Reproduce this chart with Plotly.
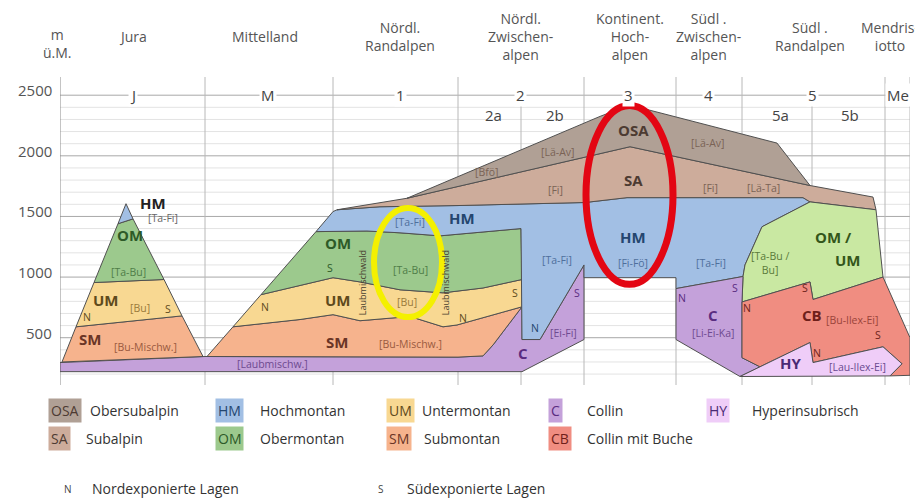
import plotly.graph_objects as go

FONT = "Open Sans, Noto Sans, DejaVu Sans, sans-serif"

# ---------------- data ----------------
# axis / grid (elevation, m ü.M.)
y_tick_vals = [500, 1000, 1500, 2000, 2500]
grid_levels = list(range(200, 2501, 100))

# profile regions (x = distance along profile, arbitrary units)
main_bounds = [0, 145, 273, 398, 524, 616, 682, 825, 850]
sub_bounds = [461, 752]
region_codes = ["J", "M", "1", "2", "3", "4", "5", "Me"]
region_code_x = [73, 208, 340, 460, 568, 648, 752, 838]
sub_codes = ["2a", "2b", "5a", "5b"]
sub_code_x = [433, 495, 720, 790]
region_names = ["Jura", "Mittelland", "Nördl.<br>Randalpen", "Nördl.<br>Zwischen-<br>alpen",
                "Kontinent.<br>Hoch-<br>alpen", "Südl .<br>Zwischen-<br>alpen", "Südl .<br>Randalpen",
                "Mendris-<br>iotto"]
region_name_x = [73, 205, 340, 460, 570, 648, 750, 830]

# vegetation belt polygons (x profile units, y elevation m)
jura_hm_x = [58, 66, 73];            jura_hm_y = [1440, 1605, 1480]
jura_om_x = [34, 58, 73, 104];       jura_om_y = [955, 1440, 1480, 980]
jura_um_x = [16, 34, 104, 122];      jura_um_y = [590, 955, 980, 680]
jura_sm_x = [2, 16, 122, 143];       jura_sm_y = [300, 590, 680, 345]

collin_x = [0, 145, 398, 423, 433, 462, 462, 480, 524, 524, 462, 0]
collin_y = [295, 345, 340, 350, 440, 755, 485, 485, 1100, 485, 220, 220]

sm_x = [147, 173, 240, 273, 300, 350, 383, 397, 462, 433, 423, 398]
sm_y = [345, 590, 650, 690, 640, 675, 590, 605, 755, 440, 350, 340]

um_x = [173, 201, 273, 300, 340, 383, 423, 462, 462, 397, 383, 350, 300, 273, 240]
um_y = [590, 855, 995, 960, 895, 870, 910, 980, 755, 605, 590, 675, 640, 690, 650]

om_x = [201, 256, 307, 340, 380, 417, 461, 462, 423, 383, 340, 300, 273]
om_y = [855, 1375, 1380, 1365, 1340, 1365, 1400, 980, 910, 870, 895, 960, 995]

hm_x = [256, 273, 277, 320, 398, 525, 567, 743, 750, 702, 685, 683, 616, 616, 524, 524,
        480, 462, 461, 417, 380, 340, 307]
hm_y = [1375, 1540, 1555, 1580, 1590, 1615, 1655, 1655, 1620, 1415, 1100, 1005, 905, 995,
        995, 1100, 485, 485, 1400, 1365, 1340, 1365, 1380]

sa_x = [277, 347, 570, 750, 813, 816, 750, 743, 567, 525, 398, 320]
sa_y = [1555, 1650, 2075, 1755, 1660, 1555, 1620, 1655, 1655, 1615, 1590, 1580]

osa_x = [347, 540, 562, 588, 717, 750, 570]
osa_y = [1650, 2325, 2395, 2380, 2105, 1755, 2075]

omum_x = [750, 816, 823, 753, 750, 682, 683, 685, 702]
omum_y = [1620, 1555, 1000, 815, 960, 795, 1005, 1100, 1415]

c4_x = [616, 683, 682, 682, 700, 680, 616]
c4_y = [905, 1005, 795, 335, 260, 180, 485]

cb_x = [682, 750, 753, 823, 850, 850, 830, 842, 823, 753, 750, 700, 682]
cb_y = [795, 960, 815, 1000, 500, 190, 185, 285, 425, 295, 460, 260, 335]

hy_x = [680, 750, 753, 823, 842, 830]
hy_y = [180, 460, 295, 425, 285, 185]

# belt colours
COL = {
    "OSA": "#b0a095", "SA": "#cdac9b", "HM": "#a2bfe4", "OM": "#9cc98d",
    "UM": "#f8d892", "SM": "#f6b38d", "C": "#c4a1da", "CB": "#f08d81",
    "HY": "#efcdf8", "OMUM": "#c9e8a2",
}
TXT = {
    "OSA": "#4d3b32", "SA": "#4d3b32", "HM": "#24466f", "OM": "#2d5a28",
    "UM": "#5e4a1c", "SM": "#6a3526", "C": "#5a2c80", "CB": "#6e1f1a",
    "HY": "#4a2a74", "OMUM": "#33561a", "K": "#222222",
}
SUB = {
    "OSA": "#7a6355", "SA": "#7a6355", "HM": "#4f6f9c", "OM": "#4f7d48",
    "UM": "#9a7a3a", "SM": "#9a5a40", "C": "#6e4a90", "CB": "#9a443a",
    "HY": "#6a4a90", "OMUM": "#5a7a3a", "K": "#666666",
}

polygons = [
    ("C", collin_x, collin_y), ("SM", sm_x, sm_y), ("UM", um_x, um_y), ("OM", om_x, om_y),
    ("HM", hm_x, hm_y), ("SA", sa_x, sa_y), ("OSA", osa_x, osa_y), ("OMUM", omum_x, omum_y),
    ("C", c4_x, c4_y), ("CB", cb_x, cb_y), ("HY", hy_x, hy_y),
    ("SM", jura_sm_x, jura_sm_y), ("UM", jura_um_x, jura_um_y), ("OM", jura_om_x, jura_om_y),
    ("HM", jura_hm_x, jura_hm_y),
]

# in-chart labels: (text, x, y, kind, colour key)
labels = [
    ("HM", 93, 1613, "abbr", "K"), ("[Ta-Fi]", 103, 1489, "sub", "K"),
    ("OM", 70, 1349, "abbr", "OM"), ("[Ta-Bu]", 68, 1044, "sub", "OM"),
    ("UM", 45, 813, "abbr", "UM"), ("[Bu]", 80, 747, "sub", "UM"), ("S", 108, 739, "ns", "UM"),
    ("N", 27, 673, "ns", "UM"), ("SM", 30, 492, "abbr", "SM"), ("[Bu-Mischw.]", 85, 426, "sub", "SM"),
    ("N", 205, 755, "ns", "UM"), ("[Laubmischw.]", 212, 285, "sub", "C"),
    ("OM", 278, 1283, "abbr", "OM"), ("S", 270, 1077, "ns", "OM"), ("UM", 277, 813, "abbr", "UM"),
    ("SM", 277, 467, "abbr", "SM"), ("[Ta-Fi]", 350, 1456, "sub", "HM"), ("HM", 402, 1489, "abbr", "HM"),
    ("[Ta-Bu]", 350, 1060, "sub", "OM"), ("[Bu]", 347, 797, "sub", "UM"),
    ("[Bu-Mischw.]", 350, 450, "sub", "SM"), ("N", 403, 665, "ns", "UM"), ("S", 455, 871, "ns", "UM"),
    ("[Bfö]", 427, 1868, "sub", "OSA"), ("[Lä-Av]", 497, 2033, "sub", "OSA"), ("[Fi]", 495, 1720, "sub", "SA"),
    ("[Ta-Fi]", 497, 1143, "sub", "HM"), ("N", 475, 582, "ns", "HM"), ("[Ei-Fi]", 503, 541, "sub", "C"),
    ("S", 517, 871, "ns", "C"), ("C", 463, 376, "abbr", "C"),
    ("OSA", 573, 2215, "abbr", "OSA"), ("SA", 573, 1803, "abbr", "SA"), ("HM", 573, 1333, "abbr", "HM"),
    ("[Fi-Fö]", 573, 1118, "sub", "HM"),
    ("[Lä-Av]", 647, 2107, "sub", "OSA"), ("[Fi]", 650, 1736, "sub", "SA"), ("[Lä-Ta]", 703, 1736, "sub", "SA"),
    ("[Ta-Fi]", 651, 1118, "sub", "HM"), ("N", 622, 829, "ns", "C"), ("S", 675, 912, "ns", "C"),
    ("C", 653, 689, "abbr", "C"), ("[Li-Ei-Ka]", 653, 541, "sub", "C"),
    ("[Ta-Bu /<br>Bu]", 710, 1115, "sub", "OMUM"), ("OM /", 773, 1333, "abbr", "OMUM"),
    ("UM", 787, 1143, "abbr", "OMUM"), ("S", 745, 912, "ns", "CB"), ("N", 687, 747, "ns", "CB"),
    ("CB", 752, 689, "abbr", "CB"), ("[Bu-Ilex-Ei]", 792, 648, "sub", "CB"), ("S", 818, 524, "ns", "CB"),
    ("N", 757, 376, "ns", "CB"), ("HY", 730, 294, "abbr", "HY"), ("[Lau-Ilex-Ei]", 797, 261, "sub", "HY"),
]

# legend entries: (code, name) rows
legend_row1 = [("OSA", "Obersubalpin"), ("HM", "Hochmontan"), ("UM", "Untermontan"),
               ("C", "Collin"), ("HY", "Hyperinsubrisch")]
legend_row2 = [("SA", "Subalpin"), ("OM", "Obermontan"), ("SM", "Submontan"), ("CB", "Collin mit Buche")]
legend_notes = [("N", "Nordexponierte Lagen"), ("S", "Südexponierte Lagen")]

# ---------------- figure ----------------
# the page body adds an 8 px offset, so the figure is 8 px smaller than the window
W, H = 915, 490
ML, MR, MT, MB = 52, 13, 69, 113
PW, PH = W - ML - MR, H - MT - MB
Y0, Y1 = 110, 2650


def px2paper(px):
    return (px - 8 - ML) / PW


def py2paper(py):
    return (H - MB - (py - 8)) / PH


fig = go.Figure()
for key, xs, ys in polygons:
    fig.add_trace(go.Scatter(x=xs + xs[:1], y=ys + ys[:1], mode="lines", fill="toself",
                             fillcolor=COL[key], line=dict(color="#505050", width=1),
                             hoverinfo="skip", showlegend=False))

shapes = []
for lv in grid_levels:
    major = lv % 500 == 0
    shapes.append(dict(type="line", xref="x", yref="y", x0=0, x1=850, y0=lv, y1=lv, layer="below",
                       line=dict(color="#a8a8a8" if major else "#e3e3e3", width=1)))
for b in main_bounds:
    shapes.append(dict(type="line", xref="x", yref="y", x0=b, x1=b, y0=Y0, y1=Y1, layer="below",
                       line=dict(color="#8a8a8a" if b == 0 else "#b8b8b8", width=1)))
for b in sub_bounds:
    shapes.append(dict(type="line", xref="x", yref="y", x0=b, x1=b, y0=Y0, y1=2460, layer="below",
                       line=dict(color="#b8b8b8", width=1)))
# highlight ellipses
shapes.append(dict(type="circle", xref="x", yref="y", x0=314, x1=382, y0=670, y1=1570,
                   line=dict(color="#f4f000", width=6)))
shapes.append(dict(type="circle", xref="x", yref="y", x0=526, x1=613, y0=940, y1=2415,
                   line=dict(color="#e30613", width=7)))

ann = []
for v in y_tick_vals:
    ann.append(dict(x=px2paper(54), xref="paper", y=v, yref="y", yshift=5, text=str(v), showarrow=False,
                    xanchor="right", yanchor="middle", font=dict(size=15, color="#555555", family=FONT)))
ann.append(dict(x=px2paper(41), xref="paper", y=py2paper(44), yref="paper", yanchor="middle",
                text="m<br>ü.M.", showarrow=False, font=dict(size=14, color="#555555", family=FONT)))
for t, x in zip(region_codes, region_code_x):
    ann.append(dict(x=x, y=2500, xref="x", yref="y", text=t, showarrow=False, bgcolor="white",
                    borderpad=1, font=dict(size=15, color="#444444", family=FONT)))
for t, x in zip(sub_codes, sub_code_x):
    ann.append(dict(x=x, y=2335, xref="x", yref="y", text=t, showarrow=False,
                    font=dict(size=15, color="#444444", family=FONT)))
for t, x in zip(region_names, region_name_x):
    ann.append(dict(x=x, xref="x", y=py2paper(37), yref="paper", yanchor="middle", text=t, showarrow=False,
                    font=dict(size=14, color="#555555", family=FONT)))

for t, x, y, kind, ck in labels:
    if kind == "abbr":
        f = dict(size=15, color=TXT[ck], family=FONT, weight="bold")
    elif kind == "sub":
        f = dict(size=10.5, color=SUB[ck], family=FONT)
    else:
        f = dict(size=10.5, color=TXT[ck], family=FONT)
    ann.append(dict(x=x, y=y, xref="x", yref="y", text=t, showarrow=False, font=f))

# vertical labels in Randalpen
for x in (302, 385):
    ann.append(dict(x=x, y=950, xref="x", yref="y", text="Laubmischwald", textangle=-90, showarrow=False,
                    font=dict(size=9, color="#4a4030", family=FONT)))

legend_box_x = [48, 215, 386, 548, 706]
legend_text_x = [[88, 258, 420, 585, 750], [84, 258, 422, 585]]
for row, (entries, py) in enumerate(((legend_row1, 410), (legend_row2, 438))):
    for i, (code, name) in enumerate(entries):
        ann.append(dict(x=px2paper(legend_box_x[i]), xref="paper", y=py2paper(py), yref="paper",
                        xanchor="left", yanchor="middle", text=code, showarrow=False, bgcolor=COL[code],
                        borderpad=2, font=dict(size=14, color=TXT[code], family=FONT)))
        ann.append(dict(x=px2paper(legend_text_x[row][i]), xref="paper", y=py2paper(py), yref="paper",
                        xanchor="left", yanchor="middle", text=name, showarrow=False,
                        font=dict(size=14, color="#333333", family=FONT)))
for (sym, name), sx, tx in zip(legend_notes, (62, 380), (90, 405)):
    ann.append(dict(x=px2paper(sx), xref="paper", y=py2paper(489), yref="paper", yanchor="middle",
                    text=sym, showarrow=False, font=dict(size=10, color="#444444", family=FONT)))
    ann.append(dict(x=px2paper(tx), xref="paper", y=py2paper(489), yref="paper", xanchor="left",
                    yanchor="middle", text=name, showarrow=False,
                    font=dict(size=14, color="#333333", family=FONT)))

fig.update_layout(
    width=W, height=H, margin=dict(l=ML, r=MR, t=MT, b=MB, autoexpand=False),
    paper_bgcolor="white", plot_bgcolor="white",
    xaxis=dict(range=[0, 850], visible=False, fixedrange=True),
    yaxis=dict(range=[Y0, Y1], visible=False, fixedrange=True),
    shapes=shapes, annotations=ann, showlegend=False,
)
fig.write_html("out.html")
